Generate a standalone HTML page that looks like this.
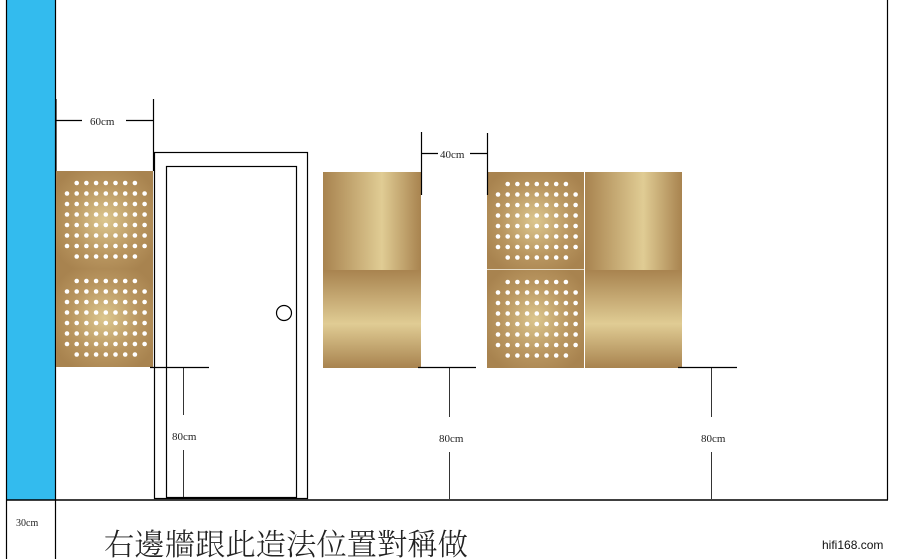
<!DOCTYPE html>
<html><head><meta charset="utf-8"><style>
html,body{margin:0;padding:0;background:#fff;width:898px;height:559px;overflow:hidden}
svg{display:block}
</style></head><body>
<svg width="898" height="559" viewBox="0 0 898 559" xmlns="http://www.w3.org/2000/svg">
<defs>
<radialGradient id="perf" cx="0.5" cy="0.5" r="0.6">
<stop offset="0" stop-color="#dcc78f"/><stop offset="0.6" stop-color="#b99660"/><stop offset="1" stop-color="#a8834f"/>
</radialGradient>
<linearGradient id="cylH" x1="0" y1="0" x2="1" y2="0">
<stop offset="0" stop-color="#a8834f"/><stop offset="0.6" stop-color="#e0cc94"/><stop offset="1" stop-color="#a8834f"/>
</linearGradient>
<linearGradient id="cylV" x1="0" y1="0" x2="0" y2="1">
<stop offset="0" stop-color="#a8834f"/><stop offset="0.55" stop-color="#e0cc94"/><stop offset="1" stop-color="#a8834f"/>
</linearGradient>
<g id="r9" fill="#fff"><circle cx="0" cy="0" r="2.3"/><circle cx="9.7" cy="0" r="2.3"/><circle cx="19.4" cy="0" r="2.3"/><circle cx="29.1" cy="0" r="2.3"/><circle cx="38.8" cy="0" r="2.3"/><circle cx="48.5" cy="0" r="2.3"/><circle cx="58.2" cy="0" r="2.3"/><circle cx="67.9" cy="0" r="2.3"/><circle cx="77.6" cy="0" r="2.3"/></g>
<g id="r7" fill="#fff"><circle cx="9.7" cy="0" r="2.3"/><circle cx="19.4" cy="0" r="2.3"/><circle cx="29.1" cy="0" r="2.3"/><circle cx="38.8" cy="0" r="2.3"/><circle cx="48.5" cy="0" r="2.3"/><circle cx="58.2" cy="0" r="2.3"/><circle cx="67.9" cy="0" r="2.3"/></g>
<g id="half">
<rect x="0" y="0" width="97" height="98" fill="url(#perf)"/>
<use href="#r7" x="11" y="12"/><use href="#r9" x="11" y="22.5"/><use href="#r9" x="11" y="33"/><use href="#r9" x="11" y="43.5"/><use href="#r9" x="11" y="54"/><use href="#r9" x="11" y="64.5"/><use href="#r9" x="11" y="75"/><use href="#r7" x="11" y="85.5"/>
</g>
</defs>
<rect x="7" y="0" width="48" height="500" fill="#33bbee"/>
<line x1="6.5" y1="0" x2="6.5" y2="559" stroke="#000" stroke-width="1.2"/>
<line x1="55.5" y1="0" x2="55.5" y2="559" stroke="#000" stroke-width="1.2"/>
<line x1="887.5" y1="0" x2="887.5" y2="500" stroke="#000" stroke-width="1.2"/>
<line x1="6" y1="500" x2="888" y2="500" stroke="#000" stroke-width="1.5"/>

<use href="#half" x="56" y="171"/>
<use href="#half" x="56" y="269"/>

<rect x="154.5" y="152.5" width="153" height="346" fill="#fff" stroke="#000" stroke-width="1.2"/>
<rect x="166.5" y="166.5" width="130" height="331" fill="none" stroke="#000" stroke-width="1.2"/>
<circle cx="284" cy="313" r="7.5" fill="#fff" stroke="#000" stroke-width="1.2"/>

<rect x="323" y="172" width="98" height="98" fill="url(#cylH)"/>
<rect x="323" y="270" width="98" height="98" fill="url(#cylV)"/>
<use href="#half" x="487" y="172"/>
<use href="#half" x="487" y="270"/>
<line x1="487" y1="269.5" x2="584" y2="269.5" stroke="#e6dcc8" stroke-width="1"/>
<rect x="585" y="172" width="97" height="98" fill="url(#cylH)"/>
<rect x="585" y="270" width="97" height="98" fill="url(#cylV)"/>

<g stroke="#000" stroke-width="1.2">
<line x1="56" y1="99" x2="56" y2="171"/>
<line x1="153.5" y1="99" x2="153.5" y2="171"/>
<line x1="56" y1="120.5" x2="82" y2="120.5"/>
<line x1="126" y1="120.5" x2="153" y2="120.5"/>
<line x1="421.5" y1="132" x2="421.5" y2="195"/>
<line x1="487.5" y1="133" x2="487.5" y2="195"/>
<line x1="421" y1="153.5" x2="438" y2="153.5"/>
<line x1="470" y1="153.5" x2="488" y2="153.5"/>
<line x1="150" y1="367.5" x2="209" y2="367.5"/>
<line x1="418" y1="367.5" x2="476" y2="367.5"/>
<line x1="678" y1="367.5" x2="737" y2="367.5"/>
</g>
<g stroke="#000" stroke-width="0.8">
<line x1="183.5" y1="368" x2="183.5" y2="415"/><line x1="183.5" y1="450" x2="183.5" y2="497"/>
<line x1="449.5" y1="368" x2="449.5" y2="417"/><line x1="449.5" y1="452" x2="449.5" y2="499"/>
<line x1="711.5" y1="368" x2="711.5" y2="417"/><line x1="711.5" y1="452" x2="711.5" y2="499"/>
</g>
<g font-size="11" fill="#222" style="font-family:'Liberation Serif',serif">
<text x="90" y="125">60cm</text>
<text x="440" y="158">40cm</text>
<text x="172" y="440">80cm</text>
<text x="439" y="442">80cm</text>
<text x="701" y="442">80cm</text>
<text x="16" y="526" font-size="10">30cm</text>
</g>
<text x="104" y="555" fill="#222" style="font-family:'Noto Serif CJK SC','Noto Sans CJK SC',serif;font-size:30px;font-weight:300" textLength="364" lengthAdjust="spacingAndGlyphs">右邊牆跟此造法位置對稱做</text>
<text x="822" y="549" fill="#111" style="font-family:'Liberation Sans',sans-serif;font-size:12px">hifi168.com</text>
</svg>
</body></html>
